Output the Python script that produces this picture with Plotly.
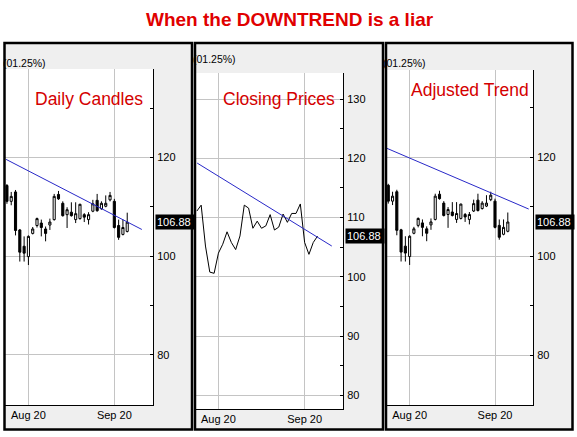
import plotly.graph_objects as go

# ---------------- data ----------------
opens  = [114.3, 111.1, 113.0, 105.3, 102.0, 99.9, 104.6, 106.2, 106.7, 105.5,
          106.3, 107.4, 112.5, 110.7, 108.4, 108.9, 107.4, 107.6, 108.4, 107.4,
          109.1, 111.3, 109.6, 110.1, 111.4, 111.1, 106.2, 104.4, 105.0]
highs  = [114.6, 113.0, 113.4, 105.5, 104.0, 104.2, 105.9, 107.8, 107.4, 106.0,
          107.6, 112.6, 113.2, 111.1, 109.9, 110.9, 110.9, 110.6, 108.7, 108.9,
          111.4, 112.6, 111.1, 112.3, 113.0, 111.6, 107.4, 107.4, 108.8]
lows   = [110.6, 110.3, 104.2, 98.9, 98.9, 98.2, 104.4, 105.8, 104.0, 103.0,
          105.3, 107.2, 111.4, 108.0, 105.7, 108.0, 106.7, 107.4, 106.9, 106.4,
          108.9, 109.0, 109.4, 109.9, 111.1, 105.6, 103.3, 104.2, 104.8]
closes = [111.1, 112.1, 105.2, 100.8, 100.6, 104.0, 105.5, 107.6, 105.8, 104.6,
          106.9, 112.1, 111.6, 108.2, 109.4, 108.2, 108.6, 110.5, 107.9, 108.4,
          110.6, 109.2, 110.7, 110.7, 112.3, 105.8, 103.8, 105.8, 106.88]
sessions = list(range(len(closes)))          # trading-session index

month_first_session = [5, 25]
month_labels = ["Aug 20", "Sep 20"]

last_price_label = "106.88"
last_price = 106.88
pct_label = "(01.25%)"

panel_titles = ["Daily Candles", "Closing Prices", "Adjusted Trend"]
chart_title = "When the DOWNTREND is a liar"

# trend lines (session index, price)
trend1_x, trend1_y = [-0.2, 31.4], [119.6, 105.4]
trend2_x, trend2_y = [0.07, 31.3], [119.2, 105.2]
trend3_x, trend3_y = [-0.4, 32.9], [121.8, 109.5]

# ---------------- layout helpers ----------------
W, H = 577, 437
def fx(px):
    return px / W
def fy(py):
    return 1 - py / H

FONT = "Arial, Liberation Sans, sans-serif"
GRID = "#c4c4c4"
PANEL_BG = "#efefef"
RED = "#d40000"
BLUE = "#2828c8"

fig = go.Figure()

def candles(xa, ya):
    return go.Candlestick(
        x=sessions, open=opens, high=highs, low=lows, close=closes,
        xaxis=xa, yaxis=ya,
        increasing=dict(line=dict(color="black", width=1), fillcolor="white"),
        decreasing=dict(line=dict(color="black", width=1), fillcolor="black"),
        whiskerwidth=0, showlegend=False, hoverinfo="skip")

fig.add_trace(candles("x", "y"))
fig.add_trace(go.Scatter(x=trend1_x, y=trend1_y, mode="lines",
                         line=dict(color=BLUE, width=1), xaxis="x", yaxis="y",
                         showlegend=False))
fig.add_trace(go.Scatter(x=sessions, y=closes, mode="lines",
                         line=dict(color="black", width=1), xaxis="x2", yaxis="y2",
                         showlegend=False))
fig.add_trace(go.Scatter(x=trend2_x, y=trend2_y, mode="lines",
                         line=dict(color=BLUE, width=1), xaxis="x2", yaxis="y2",
                         showlegend=False))
fig.add_trace(candles("x3", "y3"))
fig.add_trace(go.Scatter(x=trend3_x, y=trend3_y, mode="lines",
                         line=dict(color=BLUE, width=1), xaxis="x3", yaxis="y3",
                         showlegend=False))

def xaxis(dom, rng, anchor):
    return dict(domain=dom, range=rng, anchor=anchor, showline=True,
                linecolor="black", linewidth=1, showgrid=True, gridcolor=GRID,
                gridwidth=1, zeroline=False, tickvals=month_first_session,
                ticktext=month_labels, ticks="", rangeslider=dict(visible=False),
                tickfont=dict(family=FONT, size=11, color="black"),
                fixedrange=True)

def yaxis(dom, rng, anchor, major, minor_dtick):
    return dict(domain=dom, range=rng, anchor=anchor, side="right",
                showline=True, linecolor="black", linewidth=1,
                showgrid=True, gridcolor=GRID, gridwidth=1, zeroline=False,
                tickvals=major, ticks="inside", ticklen=3, tickcolor="black",
                ticklabelstandoff=1,
                minor=dict(dtick=minor_dtick, tick0=0, ticks="inside", ticklen=3,
                           tickcolor="black", showgrid=False),
                tickfont=dict(family=FONT, size=11, color="black"),
                fixedrange=True)

# plot-area pixel boxes
p1 = (5, 153, 69, 405)
p2 = (196, 343, 73, 409)
p3 = (387, 533, 70, 405)

fig.update_layout(
    xaxis=xaxis([fx(p1[0]), fx(p1[1])], [-0.45, 34.0], "y"),
    yaxis=yaxis([fy(p1[3]), fy(p1[2])], [69.85, 137.9], "x", [80, 100, 120], 10),
    xaxis2=xaxis([fx(p2[0]), fx(p2[1])], [-0.2, 33.9], "y2"),
    yaxis2=yaxis([fy(p2[3]), fy(p2[2])], [77.7, 134.4], "x2",
                 [80, 90, 100, 110, 120, 130], 5),
    xaxis3=xaxis([fx(p3[0]), fx(p3[1])], [-0.3, 33.9], "y3"),
    yaxis3=yaxis([fy(p3[3]), fy(p3[2])], [69.9, 137.6], "x3", [80, 100, 120], 10),
)

# panel backgrounds and borders
panels = [(4.5, 192, 43, 429.5), (195, 383, 43, 429.5), (386, 572.5, 43, 429.5)]
plots = [p1, p2, p3]
shapes = []
for (x0, x1, y0, y1), (a0, a1, b0, b1) in zip(panels, plots):
    shapes.append(dict(type="rect", xref="paper", yref="paper",
                       x0=fx(x0), x1=fx(x1), y0=fy(y1), y1=fy(y0),
                       fillcolor=PANEL_BG, line=dict(width=0), layer="below"))
    shapes.append(dict(type="rect", xref="paper", yref="paper",
                       x0=fx(a0), x1=fx(a1), y0=fy(b1), y1=fy(b0),
                       fillcolor="white", line=dict(width=0), layer="below"))
    shapes.append(dict(type="rect", xref="paper", yref="paper",
                       x0=fx(x0), x1=fx(x1), y0=fy(y1), y1=fy(y0),
                       fillcolor="rgba(0,0,0,0)",
                       line=dict(color="black", width=2.5), layer="above"))

annotations = [
    dict(text="<b>" + chart_title + "</b>", xref="paper", yref="paper",
         x=fx(290), y=fy(20), xanchor="center", yanchor="middle", showarrow=False,
         font=dict(family=FONT, size=19, color="#e00000")),
]
title_pos = [(89, 99), (278.7, 99.3), (470, 90)]
for t, (tx, ty) in zip(panel_titles, title_pos):
    annotations.append(dict(text=t, xref="paper", yref="paper", x=fx(tx), y=fy(ty),
                            xanchor="center", yanchor="middle", showarrow=False,
                            font=dict(family=FONT, size=17.5, color=RED)))
pct_pos = [(0.5, 63), (190.5, 59.3), (381, 63)]
for (tx, ty) in pct_pos:
    annotations.append(dict(text=pct_label, xref="paper", yref="paper", x=fx(tx),
                            y=fy(ty), xanchor="left", yanchor="middle",
                            showarrow=False,
                            font=dict(family=FONT, size=10.5, color="black")))
for xr, yr in [("x", "y"), ("x2", "y2"), ("x3", "y3")]:
    annotations.append(dict(text=last_price_label, xref=xr + " domain", yref=yr,
                            x=1, y=last_price, xanchor="left", yanchor="middle",
                            xshift=2, showarrow=False, bgcolor="black",
                            borderpad=1, width=36, align="left",
                            font=dict(family=FONT, size=11, color="white")))

fig.update_layout(
    width=W, height=H, autosize=False,
    margin=dict(l=0, r=0, t=0, b=0),
    paper_bgcolor="white", plot_bgcolor="white",
    boxgap=0.3,
    shapes=shapes, annotations=annotations,
    showlegend=False,
)

fig.write_html("out.html", include_plotlyjs=True,
               config={"displayModeBar": False},
               post_script="document.body.style.margin='0';document.body.style.padding='0';")
